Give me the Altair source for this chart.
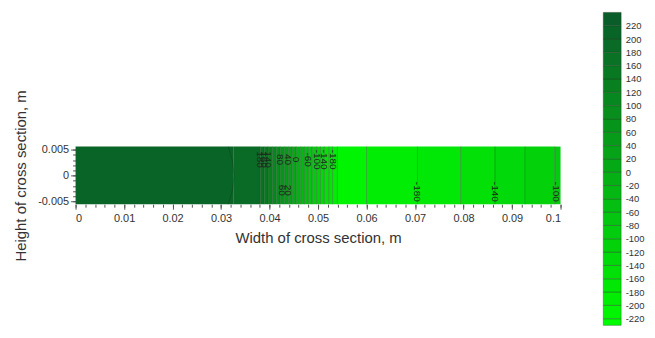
import altair as alt
import pandas as pd

# ---------------- data ----------------
# contour levels (left to right) and where they cross the section (m)
contour_levels = [200, 180, 160, 140, 120, 100, 80, 60, 40, 20, 0, -20, -40, -60, -80,
                  -100, -120, -140, -160, -180, -200, -200, -180, -160, -140, -120, -100]
contour_x = [0.0325, 0.0381, 0.0389, 0.0397, 0.0406, 0.0414, 0.0422, 0.0431, 0.0439, 0.0447,
             0.0455, 0.0464, 0.0472, 0.0480, 0.0488, 0.0497, 0.0505, 0.0513, 0.0522, 0.0530,
             0.0540, 0.0600, 0.0705, 0.0794, 0.0865, 0.0927, 0.0988]
# value of the filled band between successive contours
band_values = [210, 190, 170, 150, 130, 110, 90, 70, 50, 30, 10, -10, -30, -50, -70, -90,
               -110, -130, -150, -170, -190, -210, -190, -170, -150, -130, -110, -90]
section_x = [0.0, 0.1]
section_y = [-0.0055, 0.0056]

# the 200 contour is slightly curved
curve_x = [0.0315, 0.0323, 0.0327, 0.0323, 0.0315]
curve_y = [0.0056, 0.0030, 0.0, -0.0030, -0.0055]

# contour labels
label_text = ["180", "160", "140", "80", "40", "0", "-60", "-100", "-140", "-180",
              "60", "20", "-180", "-140", "-100"]
label_x = [0.0381, 0.0389, 0.0397, 0.0422, 0.0439, 0.0455, 0.0480, 0.0497, 0.0513, 0.0530,
           0.0425, 0.0439, 0.0705, 0.0865, 0.0990]
label_y = [0.0031, 0.0031, 0.0031, 0.0031, 0.0031, 0.0031, 0.0031, 0.0031, 0.0031, 0.0031,
           -0.0028, -0.0028, -0.0031, -0.0031, -0.0031]

# colour bar (its bottom is cut by the window in the original)
cbar_lo = [-230, -220, -200, -180, -160, -140, -120, -100, -80, -60, -40, -20, 0,
           20, 40, 60, 80, 100, 120, 140, 160, 180, 200, 220]
cbar_hi = [-220, -200, -180, -160, -140, -120, -100, -80, -60, -40, -20, 0, 20,
           40, 60, 80, 100, 120, 140, 160, 180, 200, 220, 240]
cbar_val = [-230, -210, -190, -170, -150, -130, -110, -90, -70, -50, -30, -10, 10,
            30, 50, 70, 90, 110, 130, 150, 170, 190, 210, 230]
cbar_labels = [220, 200, 180, 160, 140, 120, 100, 80, 60, 40, 20, 0,
               -20, -40, -60, -80, -100, -120, -140, -160, -180, -200, -220]

x_major = [0.0, 0.01, 0.02, 0.03, 0.04, 0.05, 0.06, 0.07, 0.08, 0.09, 0.1]
x_minor = [0.0, 0.002, 0.004, 0.006, 0.008, 0.01, 0.012, 0.014, 0.016, 0.018, 0.02, 0.022,
           0.024, 0.026, 0.028, 0.03, 0.032, 0.034, 0.036, 0.038, 0.04, 0.042, 0.044, 0.046,
           0.048, 0.05, 0.052, 0.054, 0.056, 0.058, 0.06, 0.062, 0.064, 0.066, 0.068, 0.07,
           0.072, 0.074, 0.076, 0.078, 0.08, 0.082, 0.084, 0.086, 0.088, 0.09, 0.092, 0.094,
           0.096, 0.098, 0.1]
y_major = [-0.005, 0.0, 0.005]
y_minor = [-0.005, -0.004, -0.003, -0.002, -0.001, 0.0, 0.001, 0.002, 0.003, 0.004, 0.005]

# ---------------- tables ----------------
edges = [section_x[0]] + contour_x + [section_x[1]]
bands_df = pd.DataFrame({"x0": edges[:-1], "x1": edges[1:], "value": band_values})

rows = []
for i, (lv, cx) in enumerate(zip(contour_levels, contour_x)):
    if i == 0:
        for k, (px, py) in enumerate(zip(curve_x, curve_y)):
            rows.append({"cid": i, "ord": k, "x": px, "y": py})
    else:
        rows.append({"cid": i, "ord": 0, "x": cx, "y": section_y[1]})
        rows.append({"cid": i, "ord": 1, "x": cx, "y": section_y[0]})
lines_df = pd.DataFrame(rows)

labels_df = pd.DataFrame({"x": label_x, "y": label_y, "t": label_text})
cbar_df = pd.DataFrame({"lo": cbar_lo, "hi": cbar_hi, "value": cbar_val})

# ---------------- chart ----------------
FONT = "Liberation Sans"
FMT = "'' + datum.value"
W, H = 488, 58
STEP = 13.4          # colour bar px per 20 units
CB_TOP = -135        # colour bar top (level 240) relative to plot top

xs = alt.Scale(domain=section_x, nice=False, zero=False)
ys = alt.Scale(domain=section_y, nice=False, zero=False)
cs = alt.Scale(domain=[-240, 240], range=["#00ff00", "#0a5a2a"], interpolate="rgb")

bands = alt.Chart(bands_df).mark_rect().encode(
    x=alt.X("x0:Q", scale=xs,
            axis=alt.Axis(orient="bottom", values=x_major, labelExpr=FMT,
                          title="Width of cross section, m", domain=False, grid=False,
                          tickSize=5, labelPadding=3, titlePadding=8,
                          labelFontSize=11, titleFontSize=15)),
    x2="x1:Q",
    color=alt.Color("value:Q", scale=cs, legend=None),
)

lines = alt.Chart(lines_df).mark_line(color="#163616", strokeWidth=0.7, opacity=0.55).encode(
    x=alt.X("x:Q", scale=xs,
            axis=alt.Axis(orient="bottom", values=x_minor, labels=False, title=None,
                          domain=False, grid=False, tickSize=3)),
    y=alt.Y("y:Q", scale=ys,
            axis=alt.Axis(orient="left", values=y_major, labelExpr=FMT,
                          title="Height of cross section, m", domain=False, grid=False,
                          tickSize=5, labelPadding=2, titlePadding=9,
                          labelFontSize=11, titleFontSize=15)),
    detail="cid:N",
    order="ord:Q",
)

labels = alt.Chart(labels_df).mark_text(angle=90, fontSize=10, font=FONT,
                                         color="#1a2a1a").encode(
    x=alt.X("x:Q", scale=xs, axis=None),
    y=alt.Y("y:Q", scale=ys,
            axis=alt.Axis(orient="left", values=y_minor, labels=False, title=None,
                          domain=False, grid=False, tickSize=3)),
    text="t:N",
)

cbar = alt.Chart(cbar_df).mark_rect(stroke="#1e3a1e", strokeWidth=0.6,
                                    strokeOpacity=0.6).encode(
    x=alt.value(531),
    x2=alt.value(549),
    y=alt.Y("lo:Q",
            scale=alt.Scale(domain=[-240, 240], range=[CB_TOP + 24 * STEP, CB_TOP],
                            nice=False, zero=False),
            axis=alt.Axis(orient="right", values=cbar_labels, labelExpr=FMT, title=None,
                          domain=False, ticks=False, tickSize=0, grid=False,
                          offset=62, labelPadding=3, labelFontSize=9.5)),
    y2="hi:Q",
    color=alt.Color("value:Q", scale=cs, legend=None),
)

chart = alt.layer(bands, lines, labels, cbar).resolve_scale(
    x="independent", y="independent"
).properties(
    width=W, height=H,
    padding={"left": 5, "top": 2, "right": 2, "bottom": 0},
).configure_view(stroke=None).configure_axis(
    labelFont=FONT, titleFont=FONT, labelColor="#333333", titleColor="#333333",
    tickColor="#555555", titleFontWeight="normal",
)

chart.save("out.html", embed_options={"renderer": "svg", "actions": False})
